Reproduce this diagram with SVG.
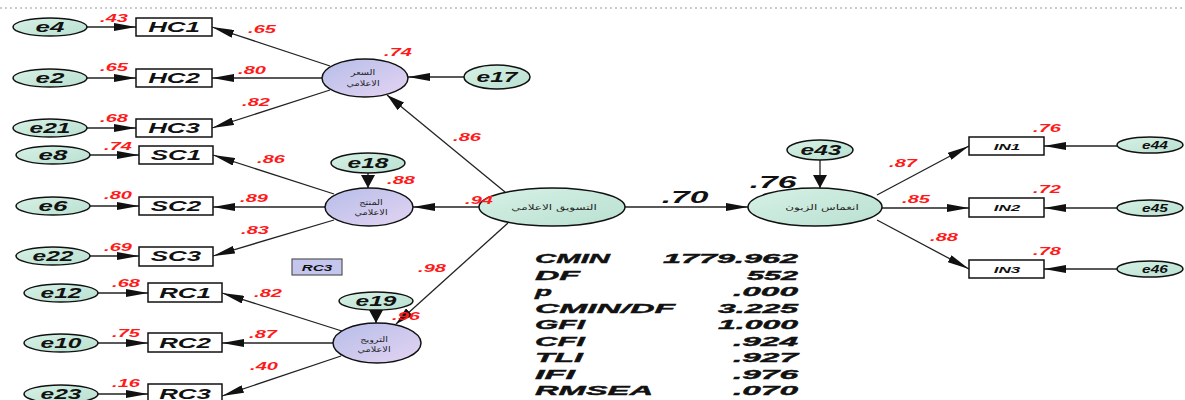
<svg xmlns="http://www.w3.org/2000/svg" width="1185" height="400" viewBox="0 0 1185 400">
<style>
.bg{fill:#ffffff}
.dots{stroke:#9a9a9a;stroke-width:1;stroke-dasharray:2 3}
.err{fill:url(#gMint);stroke:#111;stroke-width:1.5}
.lat{fill:url(#gPurp);stroke:#111;stroke-width:1.5}
.latm{fill:url(#gMint);stroke:#111;stroke-width:1.5}
.box{fill:#fff;stroke:#111;stroke-width:1.5}
.leg{fill:#c4c6ee;stroke:#555;stroke-width:1.2}
.t{font-family:"Liberation Sans",Arial,sans-serif;font-weight:bold;font-style:italic;fill:#111;text-anchor:middle}
.t14{font-size:14px}
.t10{font-size:10px}
.t9{font-size:9.5px}
.t8{font-size:8.5px}
.red{font-family:"Liberation Sans",Arial,sans-serif;font-weight:bold;font-style:italic;fill:#ff1a1a;font-size:10px;text-anchor:middle}
.big{font-family:"Liberation Sans",Arial,sans-serif;font-weight:bold;font-style:italic;fill:#111;font-size:16px;text-anchor:middle}
.ar{font-family:"DejaVu Sans","Noto Sans",sans-serif;font-size:7.5px;fill:#222;text-anchor:middle}
.st{font-family:"Liberation Sans",Arial,sans-serif;font-weight:bold;font-style:italic;fill:#111;stroke:#111;stroke-width:0.4;font-size:13.5px}
.ln{stroke:#222;stroke-width:1.3;fill:none}
.h{marker-end:url(#mh)}
.d{marker-end:url(#md)}
.v{marker-end:url(#mv)}
</style>
<defs>
<linearGradient id="gMint" x1="0" y1="0" x2="1" y2="1">
<stop offset="0" stop-color="#d6f1e6"/>
<stop offset="1" stop-color="#b9e0d0"/>
</linearGradient>
<linearGradient id="gPurp" x1="0" y1="0" x2="1" y2="1">
<stop offset="0" stop-color="#b6bde9"/>
<stop offset="1" stop-color="#e4d4f2"/>
</linearGradient>
<marker id="mh" viewBox="0 0 22 8" refX="22" refY="4" markerWidth="22" markerHeight="8" markerUnits="userSpaceOnUse" orient="auto">
<path d="M0,0 L22,4 L0,8 z" fill="#111"/>
</marker>
<marker id="md" viewBox="0 0 18 10" refX="18" refY="5" markerWidth="18" markerHeight="10" markerUnits="userSpaceOnUse" orient="auto">
<path d="M0,0 L18,5 L0,10 z" fill="#111"/>
</marker>
<marker id="mv" viewBox="0 0 13 14" refX="13" refY="7" markerWidth="13" markerHeight="14" markerUnits="userSpaceOnUse" orient="auto">
<path d="M0,0 L13,7 L0,14 z" fill="#111"/>
</marker>
</defs>
<rect class="bg" x="0" y="0" width="1185" height="400"/>
<line class="dots" x1="0" y1="8" x2="1185" y2="8"/>

<g id="connectors">
<line class="ln h" x1="87" y1="27" x2="136" y2="27"/>
<line class="ln h" x1="87" y1="78" x2="136" y2="78"/>
<line class="ln h" x1="87" y1="128" x2="136" y2="128"/>
<line class="ln h" x1="90" y1="155" x2="139" y2="155"/>
<line class="ln h" x1="90" y1="206" x2="139" y2="206"/>
<line class="ln h" x1="90" y1="256" x2="139" y2="256"/>
<line class="ln h" x1="98" y1="293" x2="148" y2="293"/>
<line class="ln h" x1="98" y1="343" x2="148" y2="343"/>
<line class="ln h" x1="98" y1="394" x2="148" y2="394"/>
<line class="ln h" x1="330" y1="66" x2="212" y2="27"/>
<line class="ln h" x1="322" y1="78" x2="212" y2="78"/>
<line class="ln h" x1="330" y1="90" x2="212" y2="128"/>
<line class="ln h" x1="464" y1="77" x2="408" y2="77"/>
<line class="ln d" x1="505" y1="192" x2="387" y2="95"/>
<line class="ln h" x1="479" y1="207" x2="413" y2="207"/>
<line class="ln d" x1="508" y1="223" x2="396" y2="324"/>
<line class="ln h" x1="334" y1="194" x2="213" y2="155"/>
<line class="ln h" x1="325" y1="207" x2="213" y2="207"/>
<line class="ln h" x1="334" y1="220" x2="213" y2="256"/>
<line class="ln v" x1="368" y1="173" x2="368" y2="188"/>
<line class="ln h" x1="345" y1="332" x2="222" y2="293"/>
<line class="ln h" x1="333" y1="343" x2="222" y2="343"/>
<line class="ln h" x1="341" y1="356" x2="222" y2="396"/>
<line class="ln v" x1="376" y1="310" x2="376" y2="323"/>
<line class="ln h" x1="625" y1="207" x2="748" y2="207"/>
<line class="ln v" x1="820" y1="160" x2="820" y2="188"/>
<line class="ln h" x1="877" y1="195" x2="969" y2="146"/>
<line class="ln h" x1="882" y1="208" x2="969" y2="208"/>
<line class="ln h" x1="877" y1="220" x2="969" y2="269"/>
<line class="ln h" x1="1117" y1="146" x2="1044" y2="146"/>
<line class="ln h" x1="1117" y1="208" x2="1044" y2="208"/>
<line class="ln h" x1="1117" y1="269" x2="1044" y2="269"/>
</g>

<g id="e4"><ellipse class="err" cx="50" cy="27" rx="37" ry="9"/><text class="t t14" transform="translate(50,32) scale(1.85,1)">e4</text></g>
<g id="e2"><ellipse class="err" cx="50" cy="78" rx="37" ry="9"/><text class="t t14" transform="translate(50,83) scale(1.85,1)">e2</text></g>
<g id="e21"><ellipse class="err" cx="50" cy="128" rx="37" ry="9"/><text class="t t14" transform="translate(50,133) scale(1.75,1)">e21</text></g>
<g id="e8"><ellipse class="err" cx="53" cy="155" rx="37" ry="9"/><text class="t t14" transform="translate(53,160) scale(1.85,1)">e8</text></g>
<g id="e6"><ellipse class="err" cx="53" cy="206" rx="37" ry="9"/><text class="t t14" transform="translate(53,211) scale(1.85,1)">e6</text></g>
<g id="e22"><ellipse class="err" cx="53" cy="256" rx="37" ry="9"/><text class="t t14" transform="translate(53,261) scale(1.75,1)">e22</text></g>
<g id="e12"><ellipse class="err" cx="61" cy="293" rx="37" ry="9"/><text class="t t14" transform="translate(61,298) scale(1.75,1)">e12</text></g>
<g id="e10"><ellipse class="err" cx="61" cy="343" rx="37" ry="9"/><text class="t t14" transform="translate(61,348) scale(1.75,1)">e10</text></g>
<g id="e23"><ellipse class="err" cx="61" cy="394" rx="37" ry="9"/><text class="t t14" transform="translate(61,399) scale(1.75,1)">e23</text></g>

<g id="HC1"><rect class="box" x="136" y="18" width="76" height="18"/><text class="t t14" transform="translate(174,32) scale(1.85,1)">HC1</text></g>
<g id="HC2"><rect class="box" x="136" y="69" width="76" height="18"/><text class="t t14" transform="translate(174,83) scale(1.85,1)">HC2</text></g>
<g id="HC3"><rect class="box" x="136" y="119" width="76" height="18"/><text class="t t14" transform="translate(174,133) scale(1.85,1)">HC3</text></g>
<g id="SC1"><rect class="box" x="139" y="146" width="74" height="18"/><text class="t t14" transform="translate(176,160) scale(1.85,1)">SC1</text></g>
<g id="SC2"><rect class="box" x="139" y="197" width="74" height="18"/><text class="t t14" transform="translate(176,211) scale(1.85,1)">SC2</text></g>
<g id="SC3"><rect class="box" x="139" y="247" width="74" height="19"/><text class="t t14" transform="translate(176,261) scale(1.85,1)">SC3</text></g>
<g id="RC1"><rect class="box" x="148" y="283" width="74" height="19"/><text class="t t14" transform="translate(185,298) scale(1.85,1)">RC1</text></g>
<g id="RC2"><rect class="box" x="148" y="333" width="74" height="19"/><text class="t t14" transform="translate(185,348) scale(1.85,1)">RC2</text></g>
<g id="RC3"><rect class="box" x="148" y="384" width="74" height="19"/><text class="t t14" transform="translate(185,399) scale(1.85,1)">RC3</text></g>

<g id="legendRC3"><rect class="leg" x="292" y="259" width="50" height="16"/><text class="t t8" transform="translate(317,270.5) scale(1.8,1)">RC3</text></g>

<g id="price"><ellipse class="lat" cx="365" cy="78" rx="43" ry="19"/><text class="ar" transform="translate(363,75) scale(1.3,1)">السعر</text><text class="ar" transform="translate(363,86) scale(1.3,1)">الاعلامي</text></g>
<g id="product"><ellipse class="lat" cx="369" cy="207" rx="44" ry="19"/><text class="ar" transform="translate(371,205) scale(1.3,1)">المنتج</text><text class="ar" transform="translate(371,215) scale(1.3,1)">الاعلامي</text></g>
<g id="promotion"><ellipse class="lat" cx="377" cy="343" rx="44" ry="20"/><text class="ar" transform="translate(374,342) scale(1.3,1)">الترويج</text><text class="ar" transform="translate(374,352) scale(1.3,1)">الاعلامي</text></g>
<g id="marketing"><ellipse class="latm" cx="552" cy="207" rx="73" ry="19"/><text class="ar" transform="translate(554,210) scale(1.6,1)">التسويق الاعلامي</text></g>
<g id="engagement"><ellipse class="latm" cx="815" cy="207" rx="67" ry="19"/><text class="ar" transform="translate(822,210) scale(1.6,1)">انغماس الزبون</text></g>

<g id="e17"><ellipse class="err" cx="497" cy="77" rx="33" ry="12"/><text class="t t14" transform="translate(497,82) scale(1.75,1)">e17</text></g>
<g id="e18"><ellipse class="err" cx="368" cy="163" rx="37" ry="10"/><text class="t t14" transform="translate(368,168) scale(1.75,1)">e18</text></g>
<g id="e19"><ellipse class="err" cx="376" cy="301" rx="37" ry="9"/><text class="t t14" transform="translate(376,306) scale(1.75,1)">e19</text></g>
<g id="e43"><ellipse class="err" cx="820" cy="150" rx="33" ry="10"/><text class="t t14" transform="translate(821,155) scale(1.75,1)">e43</text></g>

<g id="IN1"><rect class="box" x="969" y="137" width="75" height="18"/><text class="t t9" transform="translate(1007,149.5) scale(1.8,1)">IN1</text></g>
<g id="IN2"><rect class="box" x="969" y="198" width="75" height="19"/><text class="t t9" transform="translate(1007,211) scale(1.8,1)">IN2</text></g>
<g id="IN3"><rect class="box" x="969" y="260" width="75" height="18"/><text class="t t9" transform="translate(1007,272.5) scale(1.8,1)">IN3</text></g>
<g id="e44"><ellipse class="err" cx="1150" cy="145" rx="33" ry="8"/><text class="t t10" transform="translate(1155,148.5) scale(1.55,1)">e44</text></g>
<g id="e45"><ellipse class="err" cx="1150" cy="208" rx="33" ry="8"/><text class="t t10" transform="translate(1155,211.5) scale(1.55,1)">e45</text></g>
<g id="e46"><ellipse class="err" cx="1150" cy="269" rx="33" ry="8"/><text class="t t10" transform="translate(1155,272.5) scale(1.55,1)">e46</text></g>

<g id="coefficients">
<text class="red" transform="translate(114,22) scale(2,1)">.43</text>
<text class="red" transform="translate(114,71) scale(2,1)">.65</text>
<text class="red" transform="translate(114,122) scale(2,1)">.68</text>
<text class="red" transform="translate(262,33) scale(2,1)">.65</text>
<text class="red" transform="translate(252,74) scale(2,1)">.80</text>
<text class="red" transform="translate(256,106) scale(2,1)">.82</text>
<text class="red" transform="translate(398,56) scale(2,1)">.74</text>
<text class="red" transform="translate(118,150) scale(2,1)">.74</text>
<text class="red" transform="translate(118,199) scale(2,1)">.80</text>
<text class="red" transform="translate(118,251) scale(2,1)">.69</text>
<text class="red" transform="translate(271,163) scale(2,1)">.86</text>
<text class="red" transform="translate(254,202) scale(2,1)">.89</text>
<text class="red" transform="translate(255,234) scale(2,1)">.83</text>
<text class="red" transform="translate(401,184) scale(2,1)">.88</text>
<text class="red" transform="translate(126,287) scale(2,1)">.68</text>
<text class="red" transform="translate(126,337) scale(2,1)">.75</text>
<text class="red" transform="translate(126,387) scale(2,1)">.16</text>
<text class="red" transform="translate(268,297) scale(2,1)">.82</text>
<text class="red" transform="translate(263,338) scale(2,1)">.87</text>
<text class="red" transform="translate(264,370) scale(2,1)">.40</text>
<text class="red" transform="translate(406,320) scale(2,1)">.96</text>
<text class="red" transform="translate(432,272) scale(2,1)">.98</text>
<text class="red" transform="translate(467,141) scale(2,1)">.86</text>
<text class="red" transform="translate(479,204) scale(2,1)">.94</text>
<text class="red" transform="translate(903,167) scale(2,1)">.87</text>
<text class="red" transform="translate(916,203) scale(2,1)">.85</text>
<text class="red" transform="translate(944,241) scale(2,1)">.88</text>
<text class="red" transform="translate(1047,132) scale(2,1)">.76</text>
<text class="red" transform="translate(1047,193) scale(2,1)">.72</text>
<text class="red" transform="translate(1047,255) scale(2,1)">.78</text>
<text class="big" transform="translate(685,203) scale(2.1,1)">.70</text>
<text class="big" transform="translate(773,188) scale(2.1,1)">.76</text>
</g>

<g id="fitStats">
<text class="st" x="535" y="263" textLength="75" lengthAdjust="spacingAndGlyphs">CMIN</text>
<text class="st" x="663" y="263" textLength="135" lengthAdjust="spacingAndGlyphs">1779.962</text>
<text class="st" x="535" y="279.5" textLength="45" lengthAdjust="spacingAndGlyphs">DF</text>
<text class="st" x="747" y="279.5" textLength="51" lengthAdjust="spacingAndGlyphs">552</text>
<text class="st" x="535" y="296" textLength="17" lengthAdjust="spacingAndGlyphs">p</text>
<text class="st" x="733" y="296" textLength="65" lengthAdjust="spacingAndGlyphs">.000</text>
<text class="st" x="535" y="312.5" textLength="140" lengthAdjust="spacingAndGlyphs">CMIN/DF</text>
<text class="st" x="718" y="312.5" textLength="80" lengthAdjust="spacingAndGlyphs">3.225</text>
<text class="st" x="535" y="329" textLength="50" lengthAdjust="spacingAndGlyphs">GFI</text>
<text class="st" x="718" y="329" textLength="80" lengthAdjust="spacingAndGlyphs">1.000</text>
<text class="st" x="535" y="345.5" textLength="50" lengthAdjust="spacingAndGlyphs">CFI</text>
<text class="st" x="733" y="345.5" textLength="65" lengthAdjust="spacingAndGlyphs">.924</text>
<text class="st" x="535" y="362" textLength="48" lengthAdjust="spacingAndGlyphs">TLI</text>
<text class="st" x="733" y="362" textLength="65" lengthAdjust="spacingAndGlyphs">.927</text>
<text class="st" x="535" y="378.5" textLength="40" lengthAdjust="spacingAndGlyphs">IFI</text>
<text class="st" x="733" y="378.5" textLength="65" lengthAdjust="spacingAndGlyphs">.976</text>
<text class="st" x="535" y="395" textLength="118" lengthAdjust="spacingAndGlyphs">RMSEA</text>
<text class="st" x="733" y="395" textLength="65" lengthAdjust="spacingAndGlyphs">.070</text>
</g>
</svg>
